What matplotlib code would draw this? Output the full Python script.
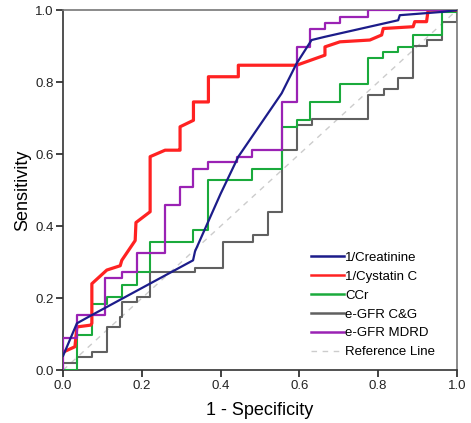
import matplotlib
matplotlib.use("Agg")
import matplotlib.pyplot as plt

plt.rcParams['font.family'] = ['Liberation Sans', 'DejaVu Sans']

# 1/Creatinine (blue) - ties give diagonal parts
creat_fpr = [0, 0.035, 0.073, 0.33, 0.335, 0.40, 0.445, 0.555, 0.593, 0.631, 0.665, 0.851, 0.855, 0.961, 1.0]
creat_tpr = [0.04, 0.13, 0.153, 0.305, 0.33, 0.49, 0.593, 0.769, 0.852, 0.917, 0.926, 0.972, 0.986, 0.995, 1.0]

# 1/Cystatin C (red)
cys_fpr = [0, 0.03, 0.035, 0.07, 0.073, 0.073, 0.111, 0.145, 0.149, 0.183, 0.185, 0.221, 0.221, 0.259, 0.293,
           0.297, 0.297, 0.331, 0.331, 0.369, 0.369, 0.445, 0.445, 0.593, 0.665, 0.665, 0.703, 0.779, 0.809,
           0.813, 0.889, 0.893, 0.923, 0.927, 1.0]
cys_tpr = [0.05, 0.065, 0.12, 0.125, 0.13, 0.24, 0.278, 0.29, 0.305, 0.36, 0.41, 0.44, 0.593, 0.611, 0.611,
           0.611, 0.676, 0.694, 0.745, 0.745, 0.815, 0.815, 0.847, 0.847, 0.875, 0.898, 0.912, 0.917, 0.931,
           0.949, 0.954, 0.968, 0.968, 1.0, 1.0]

# CCr (green) - step curve
ccr_fpr = [0, 0.035, 0.073, 0.111, 0.149, 0.187, 0.221, 0.331, 0.369, 0.479, 0.555, 0.593, 0.627, 0.703,
           0.775, 0.813, 0.851, 0.889, 0.961, 1.0]
ccr_tpr = [0, 0.097, 0.185, 0.204, 0.236, 0.273, 0.356, 0.389, 0.528, 0.56, 0.676, 0.694, 0.745, 0.796,
           0.866, 0.884, 0.898, 0.931, 0.995, 1.0]

# e-GFR C&G (grey) - step curve
cg_fpr = [0, 0, 0.035, 0.073, 0.111, 0.145, 0.149, 0.187, 0.221, 0.335, 0.407, 0.483, 0.521, 0.555, 0.593,
          0.631, 0.775, 0.815, 0.851, 0.889, 0.925, 0.961, 1.0]
cg_tpr = [0, 0.02, 0.037, 0.051, 0.12, 0.148, 0.19, 0.204, 0.273, 0.285, 0.356, 0.375, 0.44, 0.611, 0.681,
          0.699, 0.764, 0.782, 0.812, 0.9, 0.917, 0.968, 1.0]

# e-GFR MDRD (purple) - step curve
mdrd_fpr = [0, 0, 0.035, 0.107, 0.149, 0.187, 0.259, 0.297, 0.331, 0.369, 0.441, 0.479, 0.555, 0.593,
            0.627, 0.665, 0.703, 0.775, 1.0]
mdrd_tpr = [0, 0.088, 0.153, 0.255, 0.273, 0.324, 0.458, 0.509, 0.56, 0.579, 0.593, 0.611, 0.745, 0.898,
            0.949, 0.963, 0.981, 1.0, 1.0]

fig = plt.figure(figsize=(4.71, 4.23), dpi=100)
ax = fig.add_axes([0.134, 0.125, 0.836, 0.851])

ax.plot(creat_fpr, creat_tpr, color='#1c1c8a', lw=1.6, label='1/Creatinine', zorder=5)
ax.plot(cys_fpr, cys_tpr, color='#ff2222', lw=2.3, label='1/Cystatin C', zorder=4)
ax.plot(ccr_fpr, ccr_tpr, color='#1aaa3c', lw=1.5, drawstyle='steps-post', label='CCr', zorder=3)
ax.plot(cg_fpr, cg_tpr, color='#606060', lw=1.5, drawstyle='steps-post', label='e-GFR C&G', zorder=2)
ax.plot(mdrd_fpr, mdrd_tpr, color='#9a22b4', lw=1.6, drawstyle='steps-post', label='e-GFR MDRD', zorder=4)
ax.plot([0, 1], [0, 1], color='#cccccc', lw=1, ls=(0, (4, 4)), label='Reference Line', zorder=1)

ax.set_xlim(0, 1)
ax.set_ylim(0, 1)
ax.set_xticks([0, 0.2, 0.4, 0.6, 0.8, 1.0])
ax.set_yticks([0, 0.2, 0.4, 0.6, 0.8, 1.0])
ax.set_xticklabels(['0.0', '0.2', '0.4', '0.6', '0.8', '1.0'])
ax.set_yticklabels(['0.0', '0.2', '0.4', '0.6', '0.8', '1.0'])
ax.tick_params(direction='out', length=5, width=1.2, labelsize=9.5, colors='#222222', pad=2)
for s in ax.spines.values():
    s.set_color('#777777')
    s.set_linewidth(1.2)
ax.spines['left'].set_color('#333333')
ax.spines['bottom'].set_color('#333333')

ax.set_xlabel('1 - Specificity', fontsize=13, labelpad=7)
ax.set_ylabel('Sensitivity', fontsize=13, labelpad=3)

leg = ax.legend(loc='lower right', bbox_to_anchor=(0.975, 0.0), frameon=False, fontsize=9.5,
                handlelength=2.5, handletextpad=0.1, labelspacing=0.5)
for h in leg.get_lines()[:5]:
    h.set_linewidth(1.8)

fig.savefig('out.png', dpi=100)
